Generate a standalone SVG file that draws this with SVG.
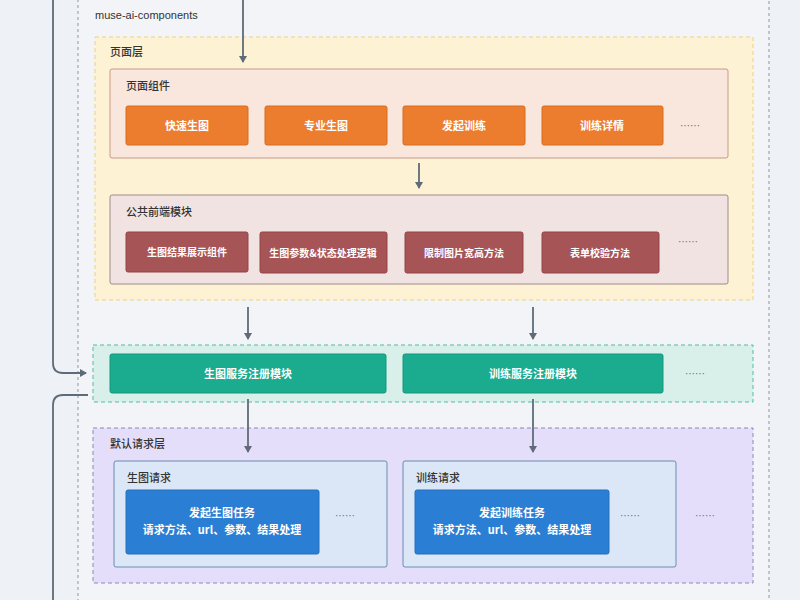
<svg xmlns="http://www.w3.org/2000/svg" width="800" height="600" viewBox="0 0 800 600">
<defs>
<marker id="ah" markerWidth="8" markerHeight="8" refX="6" refY="4" orient="auto" markerUnits="userSpaceOnUse"><path d="M0,0 L7,4 L0,8 Z" fill="#5f6b78"/></marker>
<style>
text{font-family:"Noto Sans CJK SC","Noto Sans",sans-serif}
.lbl{font-size:11px;fill:#333;font-weight:500}
.bt{font-size:11px;fill:#fff;text-anchor:middle;font-weight:bold}
.or{fill:#ec7d2e;stroke:#d96c1e}
.rd{fill:#a65456;stroke:#934446}
.tl{fill:#1bab8e;stroke:#15987e}
.bl{fill:#2a7ed3;stroke:#2270be}
.dots{font-size:10px;fill:#777;text-anchor:middle}
.cn{fill:none;stroke:#5f6b78;stroke-width:1.8}
</style>
</defs>
<rect width="800" height="600" fill="#eef2f6"/>
<g id="outer">
<rect x="78" y="-10" width="691" height="620" fill="#f2f4f7" stroke="#8a98a8" stroke-dasharray="3,3"/>
<text x="95" y="19" class="lbl" style="font-family:'Liberation Sans',sans-serif">muse-ai-components</text>
</g>
<g id="page-layer">
<rect x="95" y="37" width="658" height="263" fill="#fdf2d4" stroke="#f1d07a" stroke-dasharray="4,3"/>
<text x="110" y="56" class="lbl">页面层</text>
</g>
<g id="page-components">
<rect x="110" y="69" width="618" height="89" rx="2" fill="#f9e6dd" stroke="#c99a8a"/>
<text x="126" y="90" class="lbl">页面组件</text>
</g>
<g id="n1"><rect x="126" y="106" width="122" height="39" rx="2" class="or"/><text x="187" y="130" class="bt">快速生图</text></g>
<g id="n2"><rect x="265" y="106" width="122" height="39" rx="2" class="or"/><text x="326" y="130" class="bt">专业生图</text></g>
<g id="n3"><rect x="403" y="106" width="122" height="39" rx="2" class="or"/><text x="464" y="130" class="bt">发起训练</text></g>
<g id="n4"><rect x="542" y="106" width="121" height="39" rx="2" class="or"/><text x="602" y="130" class="bt">训练详情</text></g>
<text x="690" y="130" class="dots">……</text>
<g id="common">
<rect x="110" y="195" width="618" height="89" rx="2" fill="#f2e3e3" stroke="#a08a8a"/>
<text x="126" y="216" class="lbl">公共前端模块</text>
</g>
<g id="c1"><rect x="126" y="232" width="122" height="40" rx="2" class="rd"/><text x="187" y="256" class="bt" style="font-size:10px">生图结果展示组件</text></g>
<g id="c2"><rect x="260" y="232" width="127" height="41" rx="2" class="rd"/><text x="323" y="257" class="bt" style="font-size:10px">生图参数&amp;状态处理逻辑</text></g>
<g id="c3"><rect x="405" y="232" width="118" height="41" rx="2" class="rd"/><text x="464" y="257" class="bt" style="font-size:10px">限制图片宽高方法</text></g>
<g id="c4"><rect x="542" y="232" width="117" height="41" rx="2" class="rd"/><text x="600" y="257" class="bt" style="font-size:10px">表单校验方法</text></g>
<text x="688" y="246" class="dots">……</text>
<g id="service">
<rect x="93" y="345" width="660" height="57" fill="#d9f0ea" stroke="#4fbf9f" stroke-dasharray="4,3"/>
</g>
<g id="s1"><rect x="110" y="354" width="276" height="39" rx="2" class="tl"/><text x="248" y="378" class="bt">生图服务注册模块</text></g>
<g id="s2"><rect x="403" y="354" width="260" height="39" rx="2" class="tl"/><text x="533" y="378" class="bt">训练服务注册模块</text></g>
<text x="695" y="378" class="dots">……</text>
<g id="request-layer">
<rect x="93" y="428" width="660" height="155" fill="#e5defa" stroke="#8f86b6" stroke-dasharray="4,3"/>
<text x="110" y="448" class="lbl">默认请求层</text>
</g>
<g id="r1">
<rect x="114" y="461" width="273" height="106" rx="2" fill="#dbe7f6" stroke="#6a8bb2"/>
<text x="127" y="482" class="lbl">生图请求</text>
<rect x="126" y="490" width="193" height="64" rx="2" class="bl"/>
<text x="222" y="517" class="bt">发起生图任务</text>
<text x="222" y="534" class="bt">请求方法、url、参数、结果处理</text>
<text x="345" y="520" class="dots">……</text>
</g>
<g id="r2">
<rect x="403" y="461" width="273" height="106" rx="2" fill="#dbe7f6" stroke="#6a8bb2"/>
<text x="416" y="482" class="lbl">训练请求</text>
<rect x="415" y="490" width="194" height="64" rx="2" class="bl"/>
<text x="512" y="517" class="bt">发起训练任务</text>
<text x="512" y="534" class="bt">请求方法、url、参数、结果处理</text>
<text x="630" y="520" class="dots">……</text>
</g>
<text x="705" y="520" class="dots">……</text>
<g id="connectors">
<line x1="243" y1="0" x2="243" y2="62" class="cn" marker-end="url(#ah)"/>
<line x1="419" y1="163" x2="419" y2="188" class="cn" marker-end="url(#ah)"/>
<line x1="248" y1="307" x2="248" y2="339" class="cn" marker-end="url(#ah)"/>
<line x1="533" y1="307" x2="533" y2="339" class="cn" marker-end="url(#ah)"/>
<line x1="248" y1="399" x2="248" y2="452" class="cn" marker-end="url(#ah)"/>
<line x1="533" y1="399" x2="533" y2="452" class="cn" marker-end="url(#ah)"/>
<path d="M53,0 L53,363 Q53,373 63,373 L86,373" class="cn" marker-end="url(#ah)"/>
<path d="M88,395 L63,395 Q53,395 53,405 L53,600" class="cn"/>
</g>
</svg>
